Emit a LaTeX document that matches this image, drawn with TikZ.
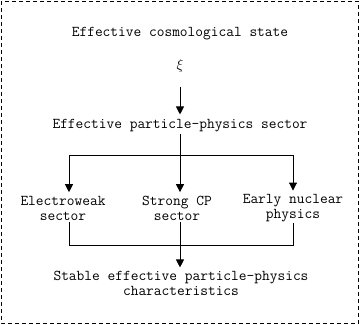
\documentclass[tikz,border=0pt]{standalone}
\usetikzlibrary{arrows.meta,positioning}
\tikzset{
  lbl/.style={align=center, font=\fontsize{15}{14.7}\ttfamily, inner sep=1pt},
  arr/.style={-{Triangle[length=8pt,width=8pt]}, line width=0.9pt},
  link/.style={line width=0.9pt},
}

\begin{document}
\begin{tikzpicture}[x=1pt, y=-1pt]
  \useasboundingbox (0,0) rectangle (360,325);
  \draw[dash pattern=on 4pt off 3pt, line width=1pt] (1,1) rectangle (358.5,323);
  % cosmological side
  \node[lbl] (cos) at (180,34) {Effective cosmological state};
  \node[lbl] (xi) at (180,66) {$\xi$};
  \node[lbl] (eff) at (180,126) {Effective particle-physics sector};
  % three sectors
  \node[lbl] (ew) at (63,208.4) {Electroweak\\sector};
  \node[lbl] (scp) at (177,208.4) {Strong CP\\sector};
  \node[lbl] (enp) at (293,208.4) {Early nuclear\\physics};
  \node[lbl] (stab) at (181,283.7) {Stable effective particle-physics\\characteristics};
  \coordinate (jl) at (69,155);
  \coordinate (jr) at (293,155);
  \coordinate (kl) at (69,245);
  \coordinate (kr) at (293,245);
  \draw[arr, shorten <=13pt, shorten >=4pt] (xi.south -| eff.north) -- (eff.north);
  \draw[link] (jl) -- (jr);
  \draw[arr, shorten >=3pt] (eff.south) -- (eff.south |- scp.north);
  \draw[arr, shorten >=3pt] (jl) -- (jl |- ew.north);
  \draw[arr, shorten >=3pt] (jr) -- (jr |- enp.north);
  \draw[link] (jl |- ew.south) -- (kl) -- (kr) -- (kr |- enp.south);
  \draw[arr, shorten >=3pt] (eff.south |- scp.south) -- (eff.south |- stab.north);
\end{tikzpicture}
\end{document}
